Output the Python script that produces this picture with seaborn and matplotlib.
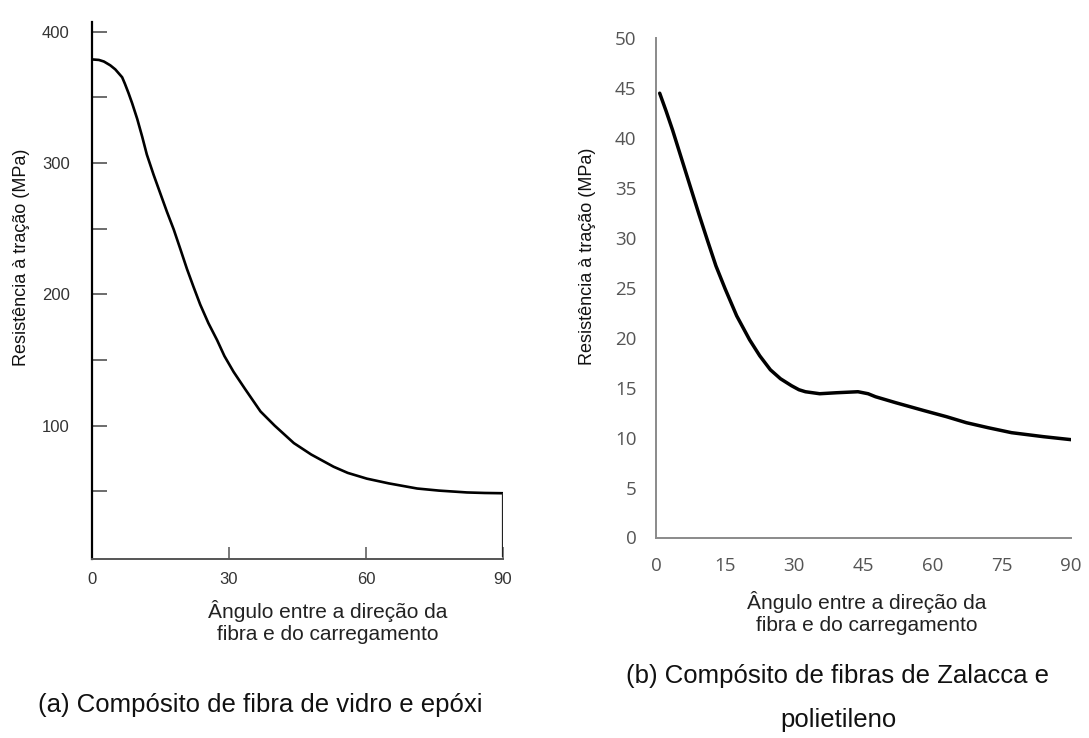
import matplotlib
matplotlib.use("Agg")
import matplotlib.pyplot as plt
import seaborn as sns
import pandas as pd

# ---- data ----
angle_a = [0, 1.5, 2.6, 4.0, 5.1, 6.6, 7.2, 8.0, 8.8, 9.9, 11.0, 12.0, 13.5, 15.0,
           16.4, 17.9, 19.3, 20.8, 22.2, 23.7, 25.5, 27.4, 29.0, 31.0, 33.5, 36.9,
           40.0, 44.2, 48.0, 52.9, 56.0, 60.2, 65.0, 71.2, 76.0, 82.1, 86.0, 90]
strength_a = [379, 378.6, 377.4, 374.5, 371.4, 365.4, 360.5, 353.3, 345.5, 333.7,
              320.0, 306.6, 291.0, 276.5, 263.0, 249.4, 235.0, 219.3, 206.0, 192.2,
              178.0, 165.1, 153.0, 141.0, 128.0, 110.8, 100.0, 86.7, 78.0, 68.7,
              64.0, 59.6, 56.0, 52.1, 50.5, 49.1, 48.7, 48.5]

angle_b = [0.8, 2.2, 3.6, 5.5, 7.4, 9.3, 11.2, 13.0, 15.0, 17.5, 20.3, 22.5, 24.8,
           27.0, 29.4, 31.0, 32.4, 35.5, 39.2, 43.8, 46.0, 47.6, 52.0, 58.2, 63.0,
           67.3, 72.0, 77.1, 84.0, 90]
strength_b = [44.5, 42.7, 40.8, 38.0, 35.2, 32.4, 29.7, 27.2, 24.9, 22.2, 19.8, 18.2,
              16.8, 15.9, 15.2, 14.8, 14.6, 14.4, 14.5, 14.6, 14.4, 14.1, 13.5, 12.7,
              12.1, 11.5, 11.0, 10.5, 10.1, 9.8]

xticks_a = [0, 30, 60, 90]
yticks_a = [100, 200, 300, 400]
yminor_a = [50, 150, 250, 350]
xticks_b = [0, 15, 30, 45, 60, 75, 90]
yticks_b = [0, 5, 10, 15, 20, 25, 30, 35, 40, 45, 50]

ylabel = "Resistência à tração (MPa)"
xlabel = "Ângulo entre a direção da\nfibra e do carregamento"
caption_a = "(a) Compósito de fibra de vidro e epóxi"
caption_b = "(b) Compósito de fibras de Zalacca e\npolietileno"

df_a = pd.DataFrame({"angle": angle_a, "strength": strength_a})
df_b = pd.DataFrame({"angle": angle_b, "strength": strength_b})

sns.set_theme(style="white")
plt.rcParams["font.family"] = ["Liberation Sans", "DejaVu Sans"]

W, H = 1089, 738
fig = plt.figure(figsize=(W / 100, H / 100), dpi=100)
fig.patch.set_facecolor("white")


def box(l, r, b, t):
    return [l / W, (H - b) / H, (r - l) / W, (b - t) / H]


# ---------- left chart ----------
ax1 = fig.add_axes(box(92, 503, 559, 22))
sns.lineplot(data=df_a, x="angle", y="strength", ax=ax1, color="black",
             linewidth=1.9, sort=False)
ax1.vlines(angle_a[-1], 0, strength_a[-1], color="#222222", linewidth=1.6)
ax1.set_xlim(0, 90)
ax1.set_ylim(-1.6, 407.5)
for s in ["top", "right"]:
    ax1.spines[s].set_visible(False)
ax1.spines["left"].set_color("black")
ax1.spines["left"].set_linewidth(1.6)
ax1.spines["bottom"].set_color("#555555")
ax1.spines["bottom"].set_linewidth(1.4)
ax1.set_xticks(xticks_a)
ax1.set_yticks(yticks_a)
ax1.set_yticks(yminor_a, minor=True)
ax1.tick_params(axis="y", which="both", direction="in", length=11, width=1.1,
                color="#444444", pad=16, labelsize=12, labelcolor="#333333", left=True)
ax1.tick_params(axis="x", which="major", direction="in", length=9, width=1.1,
                color="#555555", pad=9, labelsize=12, labelcolor="#333333", bottom=True)
ax1.set_ylabel(ylabel, fontsize=13, color="#111111")
ax1.yaxis.set_label_coords(22 / W, (H - 257) / H, transform=fig.transFigure)
ax1.yaxis.label.set_va("center")
ax1.set_xlabel(xlabel, fontsize=15, color="#222222", linespacing=1.2)
ax1.xaxis.set_label_coords(328 / W, (H - 622) / H, transform=fig.transFigure)
ax1.xaxis.label.set_va("center")
ax1.grid(False)

# ---------- right chart ----------
ax2 = fig.add_axes(box(656, 1071, 537.5, 38.3))
sns.lineplot(data=df_b, x="angle", y="strength", ax=ax2, color="black",
             linewidth=2.5, sort=False)
ax2.set_xlim(0, 90)
ax2.set_ylim(0, 50)
for s in ["top", "right"]:
    ax2.spines[s].set_visible(False)
for s in ["left", "bottom"]:
    ax2.spines[s].set_color("#8a8a8a")
    ax2.spines[s].set_linewidth(1.4)
ax2.set_xticks(xticks_b)
ax2.set_yticks(yticks_b)
ax2.tick_params(axis="both", length=0, labelsize=13.5, labelcolor="#555555")
ax2.tick_params(axis="y", pad=14)
ax2.tick_params(axis="x", pad=14)
for lab in ax2.get_xticklabels() + ax2.get_yticklabels():
    lab.set_fontfamily(["Open Sans", "DejaVu Sans"])
ax2.set_ylabel(ylabel, fontsize=13, color="#111111")
ax2.yaxis.set_label_coords(588 / W, (H - 256) / H, transform=fig.transFigure)
ax2.yaxis.label.set_va("center")
ax2.set_xlabel(xlabel, fontsize=15, color="#222222", linespacing=1.2)
ax2.xaxis.set_label_coords(867 / W, (H - 613) / H, transform=fig.transFigure)
ax2.xaxis.label.set_va("center")
ax2.grid(False)

# ---------- captions ----------
fig.text(260 / W, (H - 705) / H, caption_a, ha="center", va="center",
         fontsize=18.5, color="#111111")
fig.text(838 / W, (H - 698) / H, caption_b, ha="center", va="center",
         fontsize=18.5, color="#111111", linespacing=2.05)

fig.savefig("out.png", dpi=100, facecolor="white")
